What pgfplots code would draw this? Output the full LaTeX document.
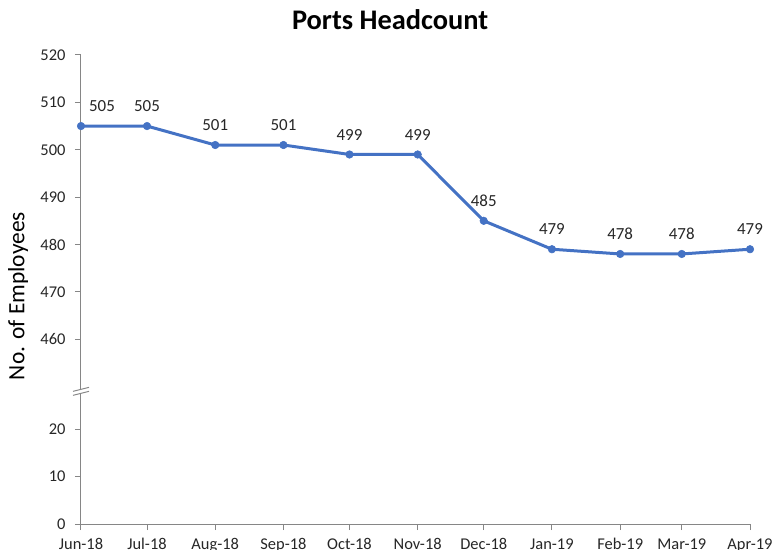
\documentclass[border=0pt]{standalone}
\usepackage{pgfplots}
\pgfplotsset{compat=1.18}
\usepackage{fontspec}
\setmainfont{Carlito}
\definecolor{lineblue}{HTML}{4472C4}
\definecolor{axisgray}{HTML}{868686}

\begin{document}
\begin{tikzpicture}
\begin{axis}[
  scale only axis, width=669bp, height=469bp,
  xmin=0, xmax=304, ymin=0, ymax=99,
  clip=false,
  axis x line*=bottom, axis y line*=left,
  x axis line style={-}, y axis line style={-},
  axis line style={axisgray, line width=1bp},
  tick align=outside, major tick length=6bp,
  tick style={axisgray, line width=1bp},
  % x = days since 1 Jun 2018
  xtick={0,30,61,92,122,153,183,214,245,273,304},
  xticklabels={Jun-18,Jul-18,Aug-18,Sep-18,Oct-18,Nov-18,Dec-18,Jan-19,Feb-19,Mar-19,Apr-19},
  % broken axis: 460..520 drawn at 39..99
  ytick={0,10,20,39,49,59,69,79,89,99},
  yticklabels={0,10,20,460,470,480,490,500,510,520},
  y filter/.expression={y-421},
  /pgf/number format/assume math mode=true,
  tick label style={font=\fontsize{16.5}{19}\selectfont, text=black!85},
  yticklabel style={xshift=-6bp},
  xticklabel style={yshift=-5bp},
  ylabel={No. of Employees},
  every axis y label/.style={at={(axis description cs:-0.094,0.486)}, anchor=center, rotate=90,
    font=\fontsize{23.5}{28}\selectfont},
  title={Ports Headcount},
  every axis title/.style={at={(axis description cs:0.462,1.0746)}, anchor=center,
    font=\fontsize{28.5}{33}\selectfont\bfseries},
]
\addplot[color=lineblue, line width=3bp, mark=*, mark size=3.8bp,
  mark options={fill=lineblue, draw=lineblue, line width=0.5bp},
  point meta=rawy, nodes near coords,
  nodes near coords style={font=\fontsize{17}{20}\selectfont, text=black!85,
    anchor=south, inner sep=0pt, yshift=14bp},
  coordinate style/.condition={\coordindex==0}{xshift=21bp}]
coordinates {
(0,505) (30,505) (61,501) (92,501) (122,499) (153,499)
(183,485) (214,479) (245,478) (273,478) (304,479)
};
% axis break marks
\fill[white] ([shift={(-8bp,-4bp)}]axis cs:0,28) -- ([shift={(8bp,0bp)}]axis cs:0,28)
  -- ([shift={(8bp,4bp)}]axis cs:0,28) -- ([shift={(-8bp,0bp)}]axis cs:0,28) -- cycle;
\draw[axisgray, line width=1bp] ([shift={(-8bp,-4bp)}]axis cs:0,28) -- ([shift={(8bp,0bp)}]axis cs:0,28);
\draw[axisgray, line width=1bp] ([shift={(-8bp,0bp)}]axis cs:0,28) -- ([shift={(8bp,4bp)}]axis cs:0,28);
\end{axis}
\pgfresetboundingbox
\path (-81bp,-26bp) rectangle (703bp,524bp);
\end{tikzpicture}
\end{document}
